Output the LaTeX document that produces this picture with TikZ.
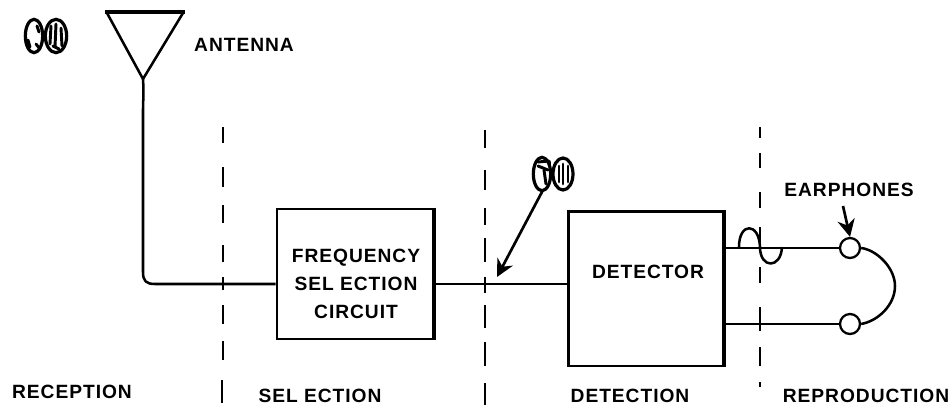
\documentclass[tikz,border=0pt]{standalone}
\usepackage{fontspec}
\setmainfont{Liberation Sans}
\newfontfamily\labfont[LetterSpace=5]{Liberation Sans}
\usetikzlibrary{arrows.meta,shapes.geometric}
\tikzset{
 x=0.75pt,y=-0.75pt,
 wire/.style={line width=1.9pt,line join=round},
 divider/.style={line width=1.9pt},
 lab/.style={font=\labfont\bfseries\fontsize{14.4pt}{21pt}\selectfont,inner sep=0pt,align=center,text=black},
 blockbox/.style={draw,line width=1.9pt,inner sep=0pt},
 earph/.style={circle,draw,line width=1.7pt,minimum size=15pt,inner sep=0pt,fill=white},
 arrowline/.style={line width=2pt,-{Stealth[length=13pt,width=13pt]}},
 bean/.style={ellipse,draw,line width=2.4pt,inner sep=0pt},
 speck/.style={line width=2.2pt,line cap=round},
}
\begin{document}
\begin{tikzpicture}
\useasboundingbox (0,0) rectangle (951,407);
% dividers
\foreach \x/\y/\Y in {
 223/127/143,223/167/187,223/205/223,223/245/262,223/277/290,223/305/324,223/341/360,222/380/403,
 485/130/148,485/170/190,485/208/225,485/238/262,485/277/293,485/305/328,485/342/366,485/383/405,
 760/127/138,760/153/168,760/192/208,760/227/248,760/267/283,760/307/331,760/347/366,760/382/387}
 \draw[divider] (\x,\y) -- (\x,\Y);
% antenna
\coordinate (ab) at (143,79);
\coordinate (tl) at (105,12);
\coordinate (tr) at (185,12);
\draw[line width=2.8pt] (tl) -- (tr);
\draw[wire] (107,13) -- (ab) -- (183,13);
% boxes
\node[blockbox,minimum width=117pt,minimum height=97.5pt] (fbox) at (355,274) {};
\node[lab] (f) at (356,284) {FREQUENCY\\SEL ECTION\\CIRCUIT};
\draw[line width=3pt] (fbox.north east) -- (fbox.south east);
\node[blockbox,minimum width=116pt,minimum height=116pt,anchor=north west] (dbox) at (567,210) {};
\node[lab] (det) at (648,272) {DETECTOR};
\draw[line width=3pt] (dbox.north east) -- (dbox.south east);
% wires
\coordinate (fin) at (fbox.west |- 0,284);
\coordinate (fout) at (fbox.east |- 0,284);
\coordinate (din) at (dbox.west |- 0,284);
\coordinate (d1) at (dbox.east |- 0,248);
\coordinate (d2) at (dbox.east |- 0,324);
\draw[wire] (ab) .. controls (144,95) and (143,100) .. (143,110) -- (143,272) .. controls (143,281) and (146,284) .. (155,284) -- (fin);
\draw[wire] (fout) -- (din);
\node[earph] (e1) at (850,248) {};
\node[earph] (e2) at (850,324) {};
\draw[wire] (d1) -- (e1);
\draw[wire] (d2) -- (e2);
\draw[wire] (e1.east) .. controls (877,250) and (895,268) .. (895,286) .. controls (895,305) and (878,321) .. (e2.east);
\draw[wire] (739,247) .. controls (739,222) and (759,222) .. (760,247) .. controls (760,269) and (781,269) .. (782,247);
% arrows
\coordinate (a1s) at (543,190);
\coordinate (a1e) at (497,277);
\coordinate (a2s) at (843,206);
\draw[arrowline] (a1s) -- (a1e);
\draw[arrowline] (a2s) -- (e1.north);
% beans
\node[bean,minimum width=13pt,minimum height=25pt] (b1) at (34,36) {};
\node[bean,minimum width=16pt,minimum height=25pt] (b2) at (56,36) {};
\node[bean,minimum width=13pt,minimum height=25pt] (b3) at (542,174) {};
\node[bean,minimum width=15pt,minimum height=24pt] (b4) at (563,174) {};
\foreach \x/\y/\X/\Y in {28/40/30/47, 37/26/39/32, 36/44/40/49, 51/26/50/44, 56/24/55/47, 61/28/62/46, 53/46/59/49,
 538/162/549/161, 538/166/548/170, 544/170/546/184, 550/162/550/180, 559/166/559/182, 563/164/563/184, 568/166/568/182}
 \draw[speck] (\x,\y) -- (\X,\Y);
% labels
\node[lab] (ant) at (244,45) {ANTENNA};
\node[lab] (ear) at (849,190) {EARPHONES};
\node[lab] (r1) at (72,392) {RECEPTION};
\node[lab] (r2) at (320,396) {SEL ECTION};
\node[lab] (r3) at (630,396) {DETECTION};
\node[lab] (r4) at (866,396) {REPRODUCTION};
\end{tikzpicture}
\end{document}
